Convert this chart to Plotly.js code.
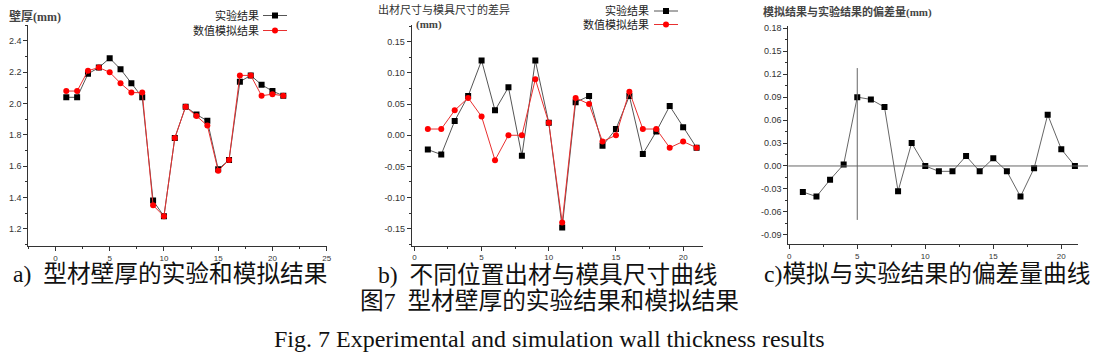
<!DOCTYPE html>
<html>
<head>
<meta charset="utf-8">
<script src="https://cdn.plot.ly/plotly-3.0.1.min.js"></script>
<style>html,body{margin:0;padding:0;background:#fff;}#chart{width:1095px;height:354px;}</style>
</head>
<body>
<div id="chart"></div>
<script>
// ---------- data ----------
const positions = [1,2,3,4,5,6,7,8,9,10,11,12,13,14,15,16,17,18,19,20,21];

// a) wall thickness (mm)
const expThickness = [2.04,2.04,2.19,2.23,2.29,2.22,2.13,2.04,1.38,1.28,1.78,1.98,1.93,1.89,1.58,1.64,2.14,2.18,2.12,2.08,2.05];
const simThickness = [2.08,2.08,2.21,2.23,2.20,2.13,2.07,2.07,1.35,1.28,1.78,1.98,1.92,1.86,1.57,1.64,2.18,2.18,2.05,2.06,2.05];

// b) difference between product size and die size (mm)
const expDiff = [-0.023,-0.031,0.023,0.063,0.12,0.04,0.077,-0.033,0.12,0.02,-0.148,0.053,0.063,-0.017,0.01,0.063,-0.03,0.006,0.047,0.013,-0.02];
const simDiff = [0.01,0.01,0.04,0.06,0.03,-0.04,0,0,0.09,0.02,-0.14,0.06,0.05,-0.01,0,0.07,0.01,0.01,-0.02,-0.01,-0.02];

// c) deviation between simulation and experiment (mm)
const deviation = [-0.034,-0.04,-0.018,0.002,0.09,0.087,0.077,-0.033,0.03,0,-0.007,-0.007,0.013,-0.007,0.01,-0.007,-0.04,-0.003,0.067,0.022,0];

// tick labels
const aXTicks = [0,5,10,15,20,25];
const aXLabels = ['0','5','10','15','20','25'];
const aYTicks = [1.2,1.4,1.6,1.8,2.0,2.2,2.4];
const aYLabels = ['1.2','1.4','1.6','1.8','2.0','2.2','2.4'];
const bXTicks = [0,5,10,15,20];
const bXLabels = ['0','5','10','15','20'];
const bYTicks = [-0.15,-0.10,-0.05,0,0.05,0.10,0.15];
const bYLabels = ['-0.15','-0.10','-0.05','0.00','0.05','0.10','0.15'];
const cXTicks = [0,5,10,15,20];
const cXLabels = ['0','5','10','15','20'];
const cYTicks = [-0.09,-0.06,-0.03,0,0.03,0.06,0.09,0.12,0.15,0.18];
const cYLabels = ['-0.09','-0.06','-0.03','0.00','0.03','0.06','0.09','0.12','0.15','0.18'];

const seriesNames = ['实验结果','数值模拟结果'];

// ---------- helpers ----------
const W = 1095, H = 354;
const px = v => v / W;
const py = v => 1 - v / H;

const blackLine = '#555';
const redLine = '#e83030';
const tickFont = {family:'Liberation Sans, Arial, sans-serif', size:9, color:'#333'};
const xTickFont = {family:'Liberation Sans, Arial, sans-serif', size:8, color:'#333'};
const cjk = 'Liberation Serif, Noto Sans CJK SC, sans-serif';

function xAxis(domain, range, tv, tt, anchor, minorD){
  return {domain, range, anchor, tickmode:'array', tickvals:tv, ticktext:tt,
    ticks:'outside', ticklen:4, tickwidth:1, tickcolor:'#333',
    showline:true, linecolor:'#333', linewidth:1, showgrid:false, zeroline:false,
    tickfont:xTickFont, fixedrange:true,
    minor:{dtick:minorD, tick0:0, ticks:'outside', ticklen:2, tickcolor:'#333', showgrid:false}};
}
function yAxis(domain, range, tv, tt, anchor, minorD, tick0){
  return {domain, range, anchor, tickmode:'array', tickvals:tv, ticktext:tt,
    ticks:'outside', ticklen:4, tickwidth:1, tickcolor:'#333',
    showline:true, linecolor:'#333', linewidth:1, showgrid:false, zeroline:false,
    tickfont:tickFont, fixedrange:true,
    minor:{dtick:minorD, tick0:tick0, ticks:'outside', ticklen:2, tickcolor:'#333', showgrid:false}};
}

const traces = [
  {x:positions, y:expThickness, xaxis:'x', yaxis:'y', mode:'lines+markers', name:seriesNames[0],
   line:{color:blackLine, width:1}, marker:{symbol:'square', size:6, color:'#000'}},
  {x:positions, y:simThickness, xaxis:'x', yaxis:'y', mode:'lines+markers', name:seriesNames[1],
   line:{color:redLine, width:1}, marker:{symbol:'circle', size:6, color:'#ff0000'}},
  {x:positions, y:expDiff, xaxis:'x2', yaxis:'y2', mode:'lines+markers', name:seriesNames[0],
   line:{color:blackLine, width:1}, marker:{symbol:'square', size:6, color:'#000'}},
  {x:positions, y:simDiff, xaxis:'x2', yaxis:'y2', mode:'lines+markers', name:seriesNames[1],
   line:{color:redLine, width:1}, marker:{symbol:'circle', size:6, color:'#ff0000'}},
  {x:positions, y:deviation, xaxis:'x3', yaxis:'y3', mode:'lines+markers', name:'偏差量',
   line:{color:'#666', width:1}, marker:{symbol:'square', size:6, color:'#000'}}
];

// legend glyphs (drawn in paper space)
function legendGlyph(x0, x1, yc, color, sym){
  const out = [{type:'line', xref:'paper', yref:'paper', x0:px(x0), x1:px(x1), y0:py(yc), y1:py(yc),
                line:{color:color, width:1}}];
  const cx = (x0 + x1) / 2, r = 3;
  out.push({type: sym === 'square' ? 'rect' : 'circle', xref:'paper', yref:'paper',
    x0:px(cx - r), x1:px(cx + r), y0:py(yc + r), y1:py(yc - r),
    fillcolor: sym === 'square' ? '#000' : '#ff0000', line:{width:0}});
  return out;
}

const shapes = [].concat(
  legendGlyph(263, 287, 15.5, blackLine, 'square'),
  legendGlyph(263, 287, 30.5, redLine, 'circle'),
  legendGlyph(654, 678, 11, blackLine, 'square'),
  legendGlyph(654, 678, 24.5, redLine, 'circle'),
  [
    {type:'line', xref:'paper', yref:'y3', x0:px(788.3), x1:px(1088), y0:0, y1:0, line:{color:'#666', width:1}},
    {type:'line', xref:'x3', yref:'y3', x0:5, x1:5, y0:-0.0705, y1:0.128, line:{color:'#666', width:1}}
  ]
);

function ann(text, x, y, size, xanchor, extra){
  return Object.assign({text, xref:'paper', yref:'paper', x:px(x), y:py(y), xanchor:xanchor||'left', yanchor:'middle',
    showarrow:false, font:{family:cjk, size:size, color:'#222'}}, extra||{});
}

const annotations = [
  ann('<b>壁厚(mm)</b>', 7, 16, 12, 'left', {font:{family:cjk, size:12, color:'#444'}}),
  ann(seriesNames[0], 261, 15.5, 11, 'right'),
  ann(seriesNames[1], 261, 30.5, 11, 'right'),
  ann('出材尺寸与模具尺寸的差异', 376, 10, 11, 'left', {font:{family:cjk, size:11, color:'#333'}}),
  ann('<b>(mm)</b>', 414, 25, 11, 'left', {font:{family:cjk, size:11, color:'#444'}}),
  ann(seriesNames[0], 651, 11, 11, 'right'),
  ann(seriesNames[1], 651, 24.5, 11, 'right'),
  ann('<b>模拟结果与实验结果的偏差量(mm)</b>', 761, 12, 11, 'left', {font:{family:cjk, size:11, color:'#444'}}),
  ann('a)  型材壁厚的实验和模拟结果', 11, 274, 23.7, 'left', {font:{family:cjk, size:23.7, color:'#111'}}),
  ann('b)  不同位置出材与模具尺寸曲线', 376, 275, 23.7, 'left', {font:{family:cjk, size:23.7, color:'#111'}}),
  ann('c)模拟与实验结果的偏差量曲线', 762, 274, 23.7, 'left', {font:{family:cjk, size:23.7, color:'#111'}}),
  ann('图7  型材壁厚的实验结果和模拟结果', 549, 301, 23.7, 'center', {font:{family:cjk, size:23.7, color:'#111'}}),
  ann('Fig. 7 Experimental and simulation wall thickness results', 549, 339, 24, 'center',
      {font:{family:'Liberation Serif, Times New Roman, serif', size:24, color:'#111'}})
];

const layout = {
  width:W, height:H, margin:{l:0, r:0, t:0, b:0},
  paper_bgcolor:'#fff', plot_bgcolor:'#fff', showlegend:false,
  xaxis:  xAxis([px(28.3), px(326.7)], [-2.5, 25], aXTicks, aXLabels, 'y', 2.5),
  yaxis:  yAxis([1 - 246/H, 1 - 25/H], [1.09, 2.502], aYTicks, aYLabels, 'x', 0.1, 0),
  xaxis2: xAxis([px(411.7), px(703.3)], [-0.2, 21.5], bXTicks, bXLabels, 'y2', 2.5),
  yaxis2: yAxis([1 - 245.5/H, 1 - 25/H], [-0.177, 0.177], bYTicks, bYLabels, 'x2', 0.025, 0),
  xaxis3: xAxis([px(788.3), px(1078.3)], [-0.07, 21.25], cXTicks, cXLabels, 'y3', 2.5),
  yaxis3: yAxis([1 - 244/H, 1 - 26/H], [-0.102, 0.183], cYTicks, cYLabels, 'x3', 0.015, 0),
  shapes, annotations
};

Plotly.newPlot('chart', traces, layout, {staticPlot:true, displayModeBar:false});
</script>
</body>
</html>
